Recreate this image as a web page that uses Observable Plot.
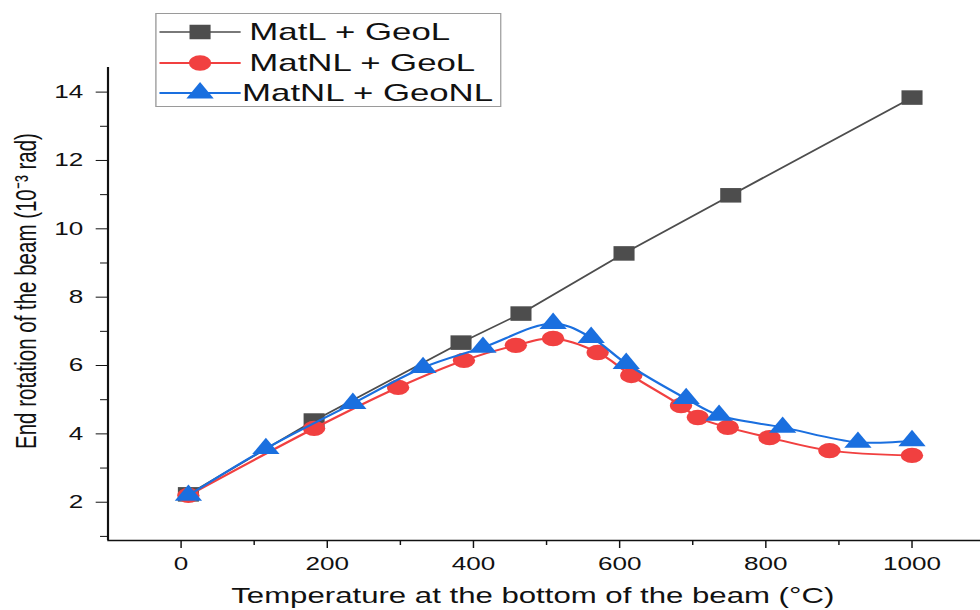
<!DOCTYPE html>
<html><head><meta charset="utf-8">
<script src="https://cdn.jsdelivr.net/npm/d3@7"></script>
<script src="https://cdn.jsdelivr.net/npm/@observablehq/plot@0.6"></script>
<style>
html,body{margin:0;padding:0;background:#fff;overflow:hidden;}
#wrap{position:relative;width:676px;height:610px;transform:scaleX(1.4497);transform-origin:0 0;font-family:"Liberation Sans",Arial,sans-serif;}
#legend{position:absolute;left:107px;top:13px;}
#legend svg{display:block;}
</style></head><body><div id="wrap"></div>
<script>
// ---- data ----
const seriesNames = ["MatL + GeoL", "MatNL + GeoL", "MatNL + GeoNL"];
const seriesColors = ["#4d4d4d", "#F14040", "#1A6FDF"];
const seriesSymbols = ["square", "circle", "triangle"];
const seriesCurves = ["linear", "catmull-rom", "catmull-rom"];

const matlGeolT = [10, 182, 383, 465, 606, 752, 1000];
const matlGeolV = [2.23, 4.39, 6.67, 7.52, 9.28, 10.98, 13.84];

const matnlGeolT = [10, 182, 297, 387, 458, 509, 570, 616, 684, 707, 748, 805, 887, 1000];
const matnlGeolV = [2.2, 4.16, 5.36, 6.15, 6.59, 6.79, 6.38, 5.71, 4.83, 4.48, 4.19, 3.89, 3.51, 3.37];

const matnlGeonlT = [10, 116, 235, 331, 413, 509, 561, 609, 691, 736, 823, 926, 1000];
const matnlGeonlV = [2.2, 3.57, 4.89, 5.94, 6.53, 7.23, 6.82, 6.06, 5.03, 4.54, 4.19, 3.75, 3.80];

const xMajorTicks = [0, 200, 400, 600, 800, 1000];
const xMinorTicks = [100, 300, 500, 700, 900];
const yMajorTicks = [2, 4, 6, 8, 10, 12, 14];
const yMinorTicks = [1, 3, 5, 7, 9, 11, 13];
const xLabel = "Temperature at the bottom of the beam (°C)";
const yLabel = "End rotation of the beam (10⁻³ rad)";

// ---- build ----
const xDomain = [-100, 1094];
const yDomain = [0.88, 14.72];
const markerR = [8.2, 7.7, 7.0];
const font = "'Liberation Sans', Arial, sans-serif";

const seriesT = [matlGeolT, matnlGeolT, matnlGeonlT];
const seriesV = [matlGeolV, matnlGeolV, matnlGeonlV];

const marks = [];
marks.push(Plot.ruleX([xDomain[0]], {stroke: "#111", strokeWidth: 1.5}));
marks.push(Plot.ruleY([yDomain[0]], {stroke: "#111", strokeWidth: 1.5}));
marks.push(Plot.axisX(xMajorTicks, {tickSize: 8, tickPadding: 9, fontSize: 18, tickFormat: d => String(d), label: null}));
marks.push(Plot.axisX(xMinorTicks, {tickSize: 5, tickFormat: () => "", label: null}));
marks.push(Plot.axisY(yMajorTicks, {tickSize: 8, tickPadding: 9, fontSize: 18, tickFormat: d => String(d), label: null}));
marks.push(Plot.axisY(yMinorTicks, {tickSize: 5, tickFormat: () => "", label: null}));
marks.push(Plot.text([xLabel], {frameAnchor: "bottom", textAnchor: "middle", lineAnchor: "bottom", dy: 62, dx: -8, fontSize: 21.5, fill: "#111"}));
marks.push(Plot.text([yLabel], {frameAnchor: "left", textAnchor: "middle", lineAnchor: "top", rotate: -90, dx: -64, dy: -13, fontSize: 20.5, fill: "#111"}));

seriesNames.forEach((name, k) => {
  const data = seriesT[k].map((t, i) => ({t, v: seriesV[k][i], name}));
  marks.push(Plot.line(data, {x: "t", y: "v", stroke: seriesColors[k], strokeWidth: k === 0 ? 1.6 : 2, curve: seriesCurves[k]}));
  marks.push(Plot.dot(data, {x: "t", y: "v", symbol: seriesSymbols[k], fill: seriesColors[k], stroke: "none", r: markerR[k]}));
});

const chart = Plot.plot({
  width: 676,
  height: 610,
  marginLeft: 74,
  marginRight: 0,
  marginTop: 67,
  marginBottom: 70,
  x: {domain: xDomain},
  y: {domain: yDomain},
  style: {fontFamily: font, fontSize: "18px", color: "#111", background: "white"},
  marks
});
const wrap = document.getElementById("wrap");
wrap.appendChild(chart);

// ---- legend ----
const legDiv = document.createElement("div");
legDiv.id = "legend";
wrap.appendChild(legDiv);
const lw = 239, lh = 94;
const leg = d3.select(legDiv).append("svg").attr("width", lw).attr("height", lh);
leg.append("rect").attr("x", 0.5).attr("y", 0.5).attr("width", lw - 1).attr("height", lh - 1)
  .attr("fill", "white").attr("stroke", "#9a9a9a").attr("stroke-width", 1);
const rowY = [19, 50, 80];
const textX = [65, 65, 60];
const symTypes = {square: d3.symbolSquare, circle: d3.symbolCircle, triangle: d3.symbolTriangle};
seriesNames.forEach((name, k) => {
  const g = leg.append("g");
  g.append("line").attr("x1", 3).attr("x2", 59).attr("y1", rowY[k]).attr("y2", rowY[k])
    .attr("stroke", seriesColors[k]).attr("stroke-width", k === 0 ? 1.6 : 2);
  g.append("path").attr("transform", `translate(31,${rowY[k]})`)
    .attr("d", d3.symbol().type(symTypes[seriesSymbols[k]]).size(Math.PI * markerR[k] * markerR[k])())
    .attr("fill", seriesColors[k]);
  g.append("text").attr("x", textX[k]).attr("y", rowY[k]).attr("dy", "0.35em")
    .attr("font-size", 24).attr("font-family", font)
    .attr("fill", "#111").text(name);
});
</script></body></html>
